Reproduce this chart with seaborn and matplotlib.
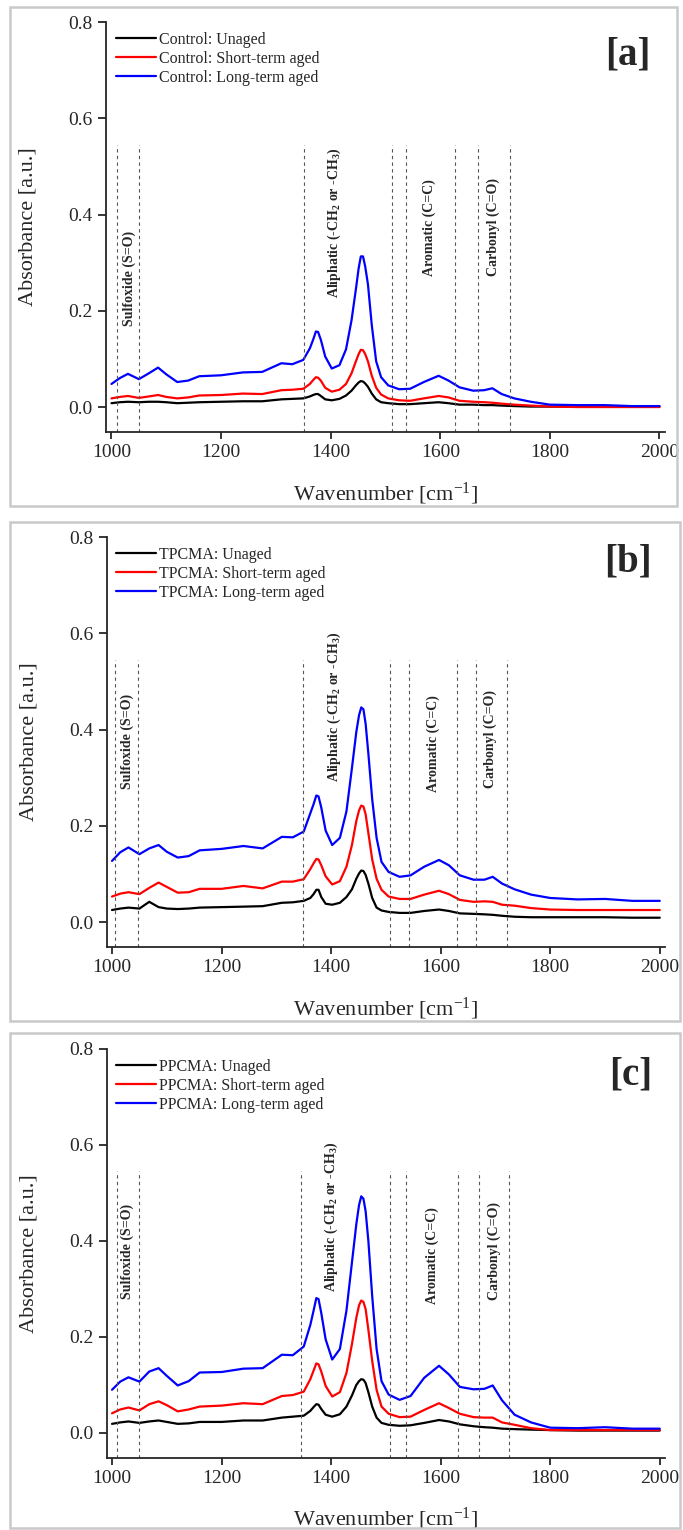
import numpy as np
import pandas as pd
import seaborn as sns
import matplotlib
matplotlib.use('Agg')
import matplotlib.pyplot as plt
from matplotlib.patches import Rectangle

# wavenumber grid (cm-1) the curves were read at
wavenumber = [1000, 1015, 1030, 1050, 1068, 1085, 1100, 1120, 1140, 1160, 1200, 1240, 1275,
              1310, 1330, 1350, 1362, 1368, 1373, 1377, 1382, 1390, 1402, 1416, 1428, 1438, 1446,
              1451, 1455, 1459, 1463, 1468, 1475, 1483, 1492, 1505, 1525, 1545, 1570, 1597, 1615,
              1635, 1660, 1680, 1695, 1712, 1735, 1765, 1800, 1850, 1900, 1950, 2000]

# [a] Control
control_unaged = [0.008, 0.010, 0.011, 0.010, 0.011, 0.011, 0.010, 0.008, 0.009, 0.010, 0.011, 0.012, 0.012,
                  0.016, 0.017, 0.018, 0.022, 0.025, 0.027, 0.027, 0.023, 0.016, 0.014, 0.017, 0.024, 0.034, 0.045,
                  0.051, 0.054, 0.053, 0.049, 0.042, 0.028, 0.016, 0.010, 0.008, 0.006, 0.006, 0.008, 0.010, 0.008,
                  0.005, 0.005, 0.004, 0.004, 0.003, 0.002, 0.001, 0.001, 0.001, 0.001, 0.001, 0.001]
control_short = [0.018, 0.021, 0.023, 0.019, 0.022, 0.025, 0.021, 0.018, 0.020, 0.024, 0.025, 0.028, 0.027,
                 0.035, 0.036, 0.038, 0.048, 0.056, 0.062, 0.061, 0.055, 0.040, 0.032, 0.036, 0.048, 0.070, 0.095,
                 0.110, 0.119, 0.118, 0.110, 0.095, 0.065, 0.040, 0.026, 0.018, 0.014, 0.013, 0.018, 0.023, 0.020,
                 0.013, 0.011, 0.010, 0.009, 0.007, 0.005, 0.003, 0.001, 0.000, 0.000, 0.000, 0.000]
control_long = [0.048, 0.060, 0.069, 0.058, 0.070, 0.082, 0.068, 0.052, 0.055, 0.064, 0.066, 0.072, 0.073,
                0.091, 0.089, 0.098, 0.122, 0.140, 0.157, 0.156, 0.140, 0.105, 0.080, 0.087, 0.120, 0.180, 0.245,
                0.288, 0.313, 0.313, 0.292, 0.255, 0.170, 0.095, 0.062, 0.045, 0.037, 0.038, 0.052, 0.065, 0.055,
                0.041, 0.034, 0.035, 0.039, 0.027, 0.018, 0.011, 0.005, 0.004, 0.004, 0.002, 0.002]

# [b] TPCMA
tpcma_unaged = [0.025, 0.028, 0.030, 0.028, 0.042, 0.031, 0.028, 0.027, 0.028, 0.030, 0.031, 0.032, 0.033,
                0.040, 0.041, 0.044, 0.050, 0.058, 0.067, 0.067, 0.052, 0.038, 0.036, 0.040, 0.052, 0.068, 0.090,
                0.101, 0.107, 0.106, 0.098, 0.080, 0.050, 0.030, 0.024, 0.021, 0.019, 0.019, 0.023, 0.026, 0.023,
                0.018, 0.017, 0.016, 0.015, 0.013, 0.011, 0.010, 0.010, 0.010, 0.010, 0.009, 0.009]
tpcma_short = [0.053, 0.059, 0.062, 0.058, 0.071, 0.082, 0.073, 0.061, 0.062, 0.069, 0.069, 0.075, 0.070,
               0.084, 0.084, 0.089, 0.110, 0.122, 0.131, 0.130, 0.118, 0.095, 0.078, 0.085, 0.115, 0.160, 0.210,
               0.232, 0.242, 0.240, 0.224, 0.185, 0.130, 0.090, 0.067, 0.053, 0.048, 0.048, 0.057, 0.065, 0.058,
               0.046, 0.042, 0.043, 0.042, 0.036, 0.034, 0.029, 0.026, 0.025, 0.025, 0.025, 0.025]
tpcma_long = [0.127, 0.145, 0.155, 0.141, 0.153, 0.160, 0.146, 0.134, 0.137, 0.149, 0.152, 0.158, 0.153,
              0.177, 0.176, 0.188, 0.226, 0.245, 0.263, 0.261, 0.238, 0.190, 0.160, 0.175, 0.230, 0.320, 0.395,
              0.430, 0.446, 0.442, 0.412, 0.350, 0.255, 0.175, 0.125, 0.104, 0.094, 0.097, 0.115, 0.129, 0.118,
              0.097, 0.088, 0.088, 0.094, 0.080, 0.068, 0.057, 0.050, 0.047, 0.048, 0.044, 0.044]

# [c] PPCMA
ppcma_unaged = [0.019, 0.022, 0.024, 0.021, 0.024, 0.026, 0.023, 0.019, 0.020, 0.023, 0.023, 0.026, 0.026,
                0.032, 0.034, 0.036, 0.046, 0.054, 0.060, 0.059, 0.050, 0.038, 0.034, 0.039, 0.055, 0.078, 0.100,
                0.108, 0.112, 0.111, 0.104, 0.085, 0.055, 0.032, 0.021, 0.017, 0.015, 0.016, 0.021, 0.027, 0.024,
                0.018, 0.014, 0.012, 0.011, 0.009, 0.008, 0.007, 0.006, 0.005, 0.005, 0.005, 0.005]
ppcma_short = [0.041, 0.049, 0.053, 0.047, 0.060, 0.066, 0.058, 0.045, 0.049, 0.055, 0.057, 0.062, 0.060,
               0.077, 0.079, 0.086, 0.112, 0.130, 0.145, 0.143, 0.128, 0.098, 0.076, 0.085, 0.125, 0.185, 0.240,
               0.266, 0.276, 0.273, 0.258, 0.215, 0.150, 0.090, 0.055, 0.040, 0.033, 0.034, 0.048, 0.062, 0.052,
               0.040, 0.033, 0.032, 0.032, 0.022, 0.017, 0.010, 0.006, 0.006, 0.006, 0.006, 0.006]
ppcma_long = [0.090, 0.107, 0.116, 0.107, 0.128, 0.135, 0.119, 0.099, 0.108, 0.126, 0.127, 0.134, 0.135,
              0.163, 0.162, 0.180, 0.225, 0.255, 0.281, 0.279, 0.250, 0.195, 0.153, 0.175, 0.255, 0.355, 0.435,
              0.475, 0.493, 0.488, 0.462, 0.400, 0.285, 0.175, 0.108, 0.080, 0.069, 0.077, 0.115, 0.140, 0.122,
              0.096, 0.091, 0.092, 0.099, 0.068, 0.038, 0.022, 0.011, 0.010, 0.012, 0.009, 0.009]

ageing = ['Unaged', 'Short-term aged', 'Long-term aged']
colors = ['#000000', '#ff0000', '#0000ff']

# band boundaries (dashed lines) and band labels per panel
bands_a = [1009.5, 1050, 1352, 1512, 1538, 1626, 1668, 1728]
bands_b = [1006, 1048, 1348, 1507, 1542, 1629, 1664, 1721]
bands_c = [1009.5, 1050, 1345, 1508, 1536, 1632, 1670, 1724]
band_names = ['Sulfoxide (S=O)', 'Aliphatic (-CH$_2$ or -CH$_3$)', 'Aromatic (C=C)', 'Carbonyl (C=O)']
name_x_a = [1032, 1407, 1579, 1697]
name_y_a = [0.168, 0.227, 0.272, 0.273]
name_x_b = [1028, 1406, 1587, 1690]
name_y_b = [0.277, 0.292, 0.271, 0.278]
name_x_c = [1028, 1401, 1585, 1698]
name_y_c = [0.279, 0.293, 0.269, 0.276]

panels = [
    ('Control', '[a]', [control_unaged, control_short, control_long], bands_a, name_x_a, name_y_a),
    ('TPCMA', '[b]', [tpcma_unaged, tpcma_short, tpcma_long], bands_b, name_x_b, name_y_b),
    ('PPCMA', '[c]', [ppcma_unaged, ppcma_short, ppcma_long], bands_c, name_x_c, name_y_c),
]

sns.set_style('ticks')
plt.rcParams['font.family'] = ['Liberation Serif', 'DejaVu Serif']
plt.rcParams['mathtext.default'] = 'regular'
plt.rcParams['axes.linewidth'] = 1.3
plt.rcParams['xtick.major.width'] = 1.3
plt.rcParams['ytick.major.width'] = 1.3
plt.rcParams['xtick.major.size'] = 5
plt.rcParams['ytick.major.size'] = 6

fig = plt.figure(figsize=(6.83, 15.3), dpi=100)

axes_pos = [[0.1552, 0.7176, 0.8184, 0.268],
            [0.1560, 0.3810, 0.8180, 0.268],
            [0.1560, 0.0471, 0.8180, 0.2673]]
frames = [[10, 7, 677, 506], [10, 522, 680, 1021], [10, 1033, 680, 1528]]
tag_pos = [(0.934, 0.92), (0.934, 0.939), (0.938, 0.936)]

for i, (name, tag, series, bands, nx, ny) in enumerate(panels):
    x0, y0, x1, y1 = frames[i]
    fig.patches.append(Rectangle((x0 / 683, 1 - y1 / 1530), (x1 - x0) / 683, (y1 - y0) / 1530,
                                 transform=fig.transFigure, fill=False,
                                 edgecolor='#c9c9c9', linewidth=1.8))

    ax = fig.add_axes(axes_pos[i])
    labels = [f'{name}: {a}' for a in ageing]
    df = pd.DataFrame({
        'Wavenumber': wavenumber * 3,
        'Absorbance': series[0] + series[1] + series[2],
        'Sample': sum([[lab] * len(wavenumber) for lab in labels], []),
    })
    sns.lineplot(data=df, x='Wavenumber', y='Absorbance', hue='Sample', hue_order=labels,
                 palette=colors, estimator=None, linewidth=1.6, ax=ax)

    ax.vlines(bands, -0.052, 0.545, colors='#555555', linestyles=(0, (3, 3)), linewidth=0.8)
    for txt, tx, ty in zip(band_names, nx, ny):
        ax.text(tx, ty, txt, rotation=90, ha='center', va='bottom',
                fontsize=10, fontweight='bold')

    ax.text(*tag_pos[i], tag, transform=ax.transAxes, ha='center', va='center',
            fontsize=28, fontweight='bold')

    ax.set_xlim(990, 2010)
    ax.set_ylim(-0.052, 0.8)
    ax.set_xticks(np.arange(1000, 2001, 200))
    ax.set_yticks(np.arange(0, 0.81, 0.2))
    ax.set_yticklabels([f'{v:.1f}' for v in np.arange(0, 0.81, 0.2)])
    ax.tick_params(labelsize=14)
    ax.set_xlabel('Wavenumber [cm$^{-1}$]', fontsize=16, labelpad=14)
    ax.set_ylabel('Absorbance [a.u.]', fontsize=16, labelpad=22)
    sns.despine(ax=ax)

    ax.legend(loc='upper left', bbox_to_anchor=(0.0, 1.0), frameon=False, fontsize=11.5,
              handlelength=2.5, handletextpad=0.2, labelspacing=0.2,
              borderaxespad=0.4, borderpad=0.2)

fig.savefig('out.png', dpi=100)
